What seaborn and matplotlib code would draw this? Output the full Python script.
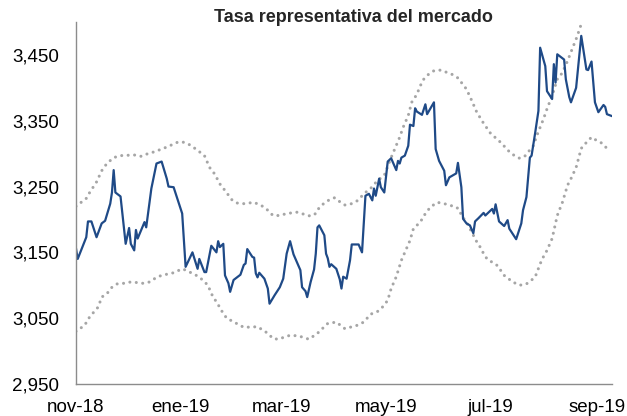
import pandas as pd
import numpy as np
import matplotlib
matplotlib.use('Agg')
import matplotlib.pyplot as plt
import matplotlib.ticker as mticker
import seaborn as sns

# Tasa representativa del mercado (COP/USD)
start = pd.Timestamp('2018-11-01')

# days since 1-nov-2018 and values of the main series
day_tasa = [0, 1, 6, 7, 9, 12, 15, 17, 20, 21,
            22, 23, 26, 29, 31, 32, 34, 35, 36, 40,
            41, 44, 47, 50, 53, 54, 57, 62, 64, 68,
            71, 72, 75, 76, 79, 82, 83, 84, 86, 87,
            89, 90, 92, 96, 98, 99, 100, 103, 104, 105,
            106, 107, 110, 112, 113, 116, 119, 121, 123, 125,
            127, 128, 131, 132, 134, 135, 137, 139, 140, 141,
            142, 145, 146, 147, 148, 149, 152, 154, 155, 156,
            158, 160, 161, 165, 167, 169, 171, 173, 174, 175,
            177, 178, 180, 182, 184, 187, 188, 189, 190, 192,
            194, 195, 197, 198, 199, 202, 204, 205, 209, 210,
            212, 215, 216, 218, 222, 223, 225, 226, 228, 230,
            232, 233, 235, 238, 239, 241, 243, 244, 245, 247,
            250, 252, 253, 257, 260, 261, 263, 265, 266, 268,
            270, 271, 274, 275, 278, 279, 280, 281, 285, 286,
            288, 289, 292, 295, 298, 299, 301, 303, 305, 308,
            309, 310, 313]
tasa = [3156, 3140, 3173, 3197, 3197, 3173, 3194, 3198, 3224, 3241,
        3275, 3241, 3235, 3163, 3187, 3163, 3153, 3184, 3171, 3196,
        3188, 3247, 3285, 3288, 3262, 3250, 3249, 3209, 3128, 3150,
        3125, 3140, 3120, 3120, 3160, 3150, 3167, 3158, 3163, 3115,
        3103, 3090, 3108, 3116, 3131, 3133, 3155, 3143, 3142, 3118,
        3112, 3119, 3110, 3095, 3072, 3085, 3097, 3110, 3148, 3167,
        3147, 3141, 3123, 3097, 3091, 3082, 3105, 3124, 3148, 3188,
        3191, 3176, 3148, 3141, 3128, 3132, 3125, 3109, 3095, 3113,
        3110, 3138, 3162, 3162, 3150, 3236, 3239, 3229, 3247, 3236,
        3262, 3249, 3241, 3288, 3293, 3275, 3289, 3285, 3294, 3297,
        3312, 3344, 3342, 3369, 3364, 3359, 3375, 3360, 3378, 3307,
        3289, 3274, 3252, 3264, 3270, 3286, 3249, 3201, 3194, 3191,
        3179, 3197, 3202, 3210, 3206, 3211, 3216, 3209, 3223, 3197,
        3190, 3199, 3186, 3170, 3194, 3214, 3234, 3294, 3297, 3330,
        3365, 3461, 3433, 3395, 3383, 3436, 3408, 3451, 3443, 3413,
        3386, 3378, 3400, 3479, 3428, 3427, 3440, 3378, 3363, 3374,
        3371, 3360, 3357]

# upper band (dotted)
day_sup = [0, 3, 6, 8, 12, 15, 18, 22, 26, 34,
           38, 42, 46, 53, 59, 62, 66, 70, 75, 78,
           81, 84, 87, 91, 94, 98, 104, 109, 112, 115,
           119, 123, 129, 133, 137, 140, 142, 145, 148, 151,
           154, 157, 161, 164, 169, 172, 176, 180, 184, 189,
           191, 194, 196, 199, 201, 203, 206, 209, 213, 217,
           220, 223, 228, 231, 234, 238, 242, 248, 253, 256,
           259, 262, 267, 269, 271, 273, 275, 278, 281, 284,
           287, 290, 292, 294, 295]
banda_sup = [3220, 3226, 3232, 3241, 3257, 3274, 3285, 3294, 3297, 3298,
             3296, 3300, 3303, 3310, 3317, 3318, 3314, 3307, 3297, 3279,
             3269, 3254, 3244, 3230, 3225, 3224, 3226, 3220, 3214, 3206,
             3206, 3209, 3211, 3208, 3205, 3209, 3218, 3225, 3230, 3233,
             3227, 3222, 3224, 3228, 3241, 3247, 3259, 3267, 3294, 3325,
             3340, 3358, 3378, 3390, 3403, 3413, 3421, 3426, 3427, 3423,
             3420, 3415, 3398, 3381, 3363, 3346, 3331, 3317, 3303, 3297,
             3293, 3296, 3312, 3327, 3340, 3353, 3368, 3388, 3413, 3423,
             3441, 3461, 3474, 3489, 3497]

# lower band (dotted)
day_inf = [0, 5, 8, 13, 15, 18, 21, 24, 28, 32,
           36, 39, 43, 47, 50, 57, 62, 64, 68, 71,
           74, 77, 80, 82, 84, 86, 88, 98, 106, 112,
           115, 118, 125, 130, 136, 141, 147, 152, 157, 164,
           168, 172, 176, 179, 182, 184, 187, 190, 193, 195,
           197, 201, 204, 207, 211, 215, 219, 222, 224, 225,
           228, 230, 232, 234, 236, 238, 240, 246, 250, 255,
           259, 263, 268, 272, 275, 278, 281, 284, 287, 289,
           292, 295, 298, 301, 304, 307, 310]
banda_inf = [3030, 3039, 3052, 3067, 3082, 3087, 3097, 3102, 3103, 3105,
             3104, 3103, 3105, 3112, 3115, 3119, 3125, 3123, 3118, 3114,
             3108, 3100, 3082, 3075, 3066, 3057, 3050, 3036, 3037, 3027,
             3019, 3018, 3024, 3023, 3018, 3027, 3042, 3044, 3034, 3039,
             3044, 3056, 3060, 3067, 3077, 3095, 3113, 3138, 3156, 3168,
             3186, 3196, 3209, 3219, 3226, 3224, 3221, 3219, 3214, 3206,
             3196, 3186, 3176, 3166, 3158, 3148, 3140, 3130, 3115, 3105,
             3100, 3102, 3112, 3139, 3153, 3171, 3206, 3226, 3252, 3262,
             3279, 3308, 3317, 3325, 3320, 3316, 3308]

tick_fechas = ['2018-11-01', '2019-01-01', '2019-03-01', '2019-05-01', '2019-07-01', '2019-09-01']
tick_labels = ['nov-18', 'ene-19', 'mar-19', 'may-19', 'jul-19', 'sep-19']
y_ticks = [2950, 3050, 3150, 3250, 3350, 3450]

df = pd.DataFrame({'fecha': start + pd.to_timedelta(day_tasa, unit='D'), 'tasa': tasa})
df_sup = pd.DataFrame({'fecha': start + pd.to_timedelta(day_sup, unit='D'), 'banda': banda_sup})
df_inf = pd.DataFrame({'fecha': start + pd.to_timedelta(day_inf, unit='D'), 'banda': banda_inf})

sns.set_style('white')
plt.rcParams['font.family'] = ['Liberation Sans', 'DejaVu Sans']

fig = plt.figure(figsize=(6.27, 4.16), dpi=100)
ax = fig.add_axes([0.1212, 0.077, 0.855, 0.870])

gris = '#A6A6A6'
for d in (df_sup, df_inf):
    sns.lineplot(data=d, x='fecha', y='banda', ax=ax, color=gris, linewidth=2.2,
                 linestyle=(0, (0.01, 2.1)), dash_capstyle='round')
sns.lineplot(data=df, x='fecha', y='tasa', ax=ax, color='#1F4A87', linewidth=1.6)

ax.set_xlim(start, start + pd.Timedelta(days=313))
ax.set_ylim(2950, 3500)
ax.set_yticks(y_ticks)
ax.yaxis.set_major_formatter(mticker.FuncFormatter(lambda v, p: f'{v:,.0f}'))
ax.set_xticks(pd.to_datetime(tick_fechas))
ax.set_xticklabels(tick_labels)
ax.set_xlabel('')
ax.set_ylabel('')

for s in ('top', 'right'):
    ax.spines[s].set_visible(False)
for s in ('left', 'bottom'):
    ax.spines[s].set_color('#8C8C8C')
    ax.spines[s].set_linewidth(1.0)
ax.tick_params(axis='both', which='major', direction='out', length=5, width=1.0,
               color='#8C8C8C', labelsize=13.5, labelcolor='black')
ax.tick_params(axis='y', pad=7)
ax.tick_params(axis='x', pad=6)

fig.text(0.563, 0.958, 'Tasa representativa del mercado', ha='center', va='center',
         fontsize=13, fontweight='bold')

fig.savefig('out.png', dpi=100)
